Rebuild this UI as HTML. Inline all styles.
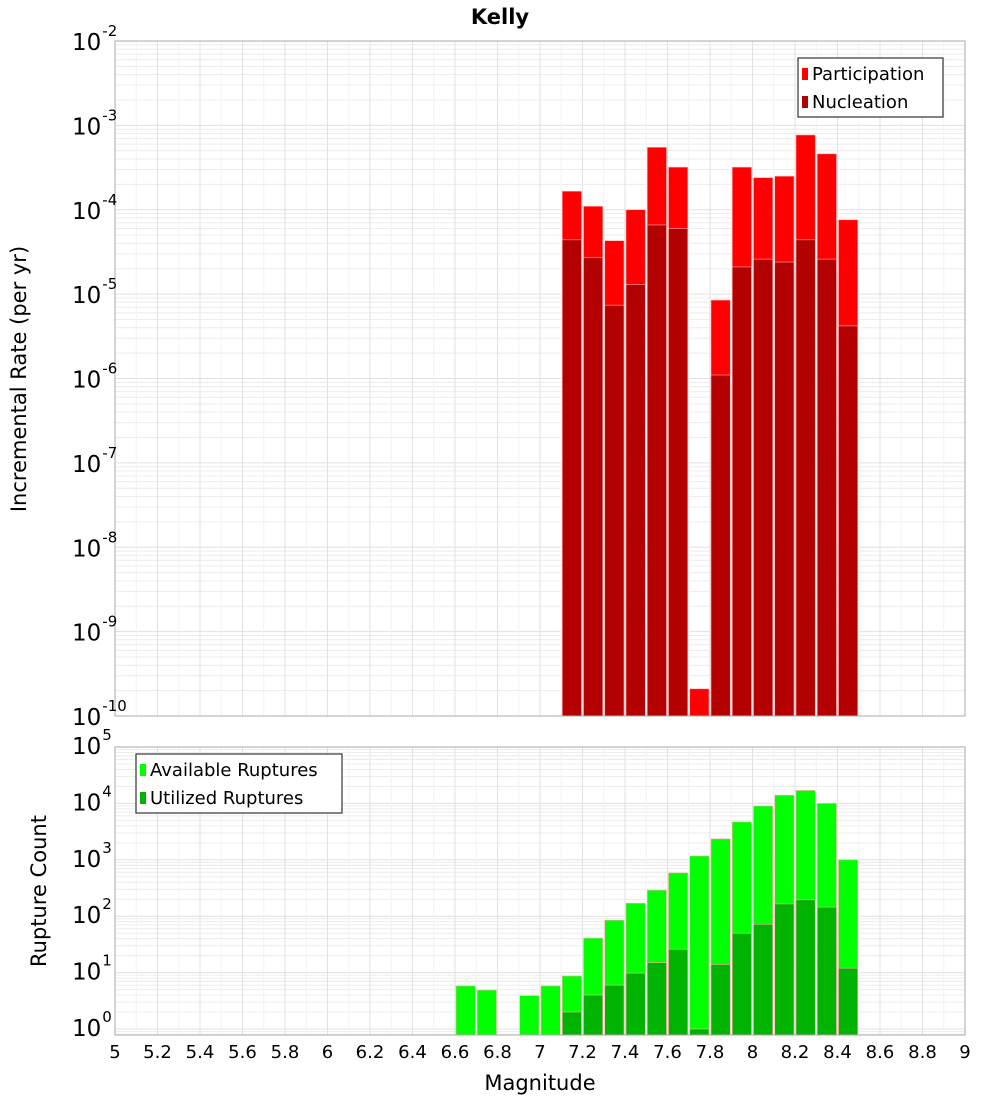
<!DOCTYPE html>
<html><head><meta charset="utf-8"><style>
body{margin:0;background:#fff;}
svg{display:block;font-family:"DejaVu Sans","Liberation Sans",sans-serif;}
</style></head><body>
<svg id="chart" width="1000" height="1100" xmlns="http://www.w3.org/2000/svg"></svg>
<script>
const mags=[7.1,7.2,7.3,7.4,7.5,7.6,7.7,7.8,7.9,8.0,8.1,8.2,8.3,8.4];
const participation=[1.66e-4,1.1e-4,4.3e-5,1e-4,5.5e-4,3.2e-4,2.1e-10,8.5e-6,3.2e-4,2.4e-4,2.5e-4,7.7e-4,4.6e-4,7.6e-5];
const nucleation=[4.4e-5,2.7e-5,7.4e-6,1.3e-5,6.6e-5,6.0e-5,0,1.1e-6,2.1e-5,2.6e-5,2.4e-5,4.4e-5,2.6e-5,4.2e-6];
const countMags=[6.6,6.7,6.9,7.0,7.1,7.2,7.3,7.4,7.5,7.6,7.7,7.8,7.9,8.0,8.1,8.2,8.3,8.4];
const available=[5.8,4.9,3.9,5.8,8.7,41,85,170,290,585,1170,2350,4700,9000,14000,17000,10000,1000];
const utilized=[0,0,0,0,2.0,4,6,9.8,15,26,1.0,14,50,72,165,195,145,12];
const xTicks=["5","5.2","5.4","5.6","5.8","6","6.2","6.4","6.6","6.8","7","7.2","7.4","7.6","7.8","8","8.2","8.4","8.6","8.8","9"];

const NS="http://www.w3.org/2000/svg";
const svg=document.getElementById('chart');
function mk(tag,attrs,parent){const e=document.createElementNS(NS,tag);for(const k in attrs)e.setAttribute(k,attrs[k]);(parent||svg).appendChild(e);return e;}
const X0=115,X1=965;
const xs=m=>X0+(m-5)/4*(X1-X0);
const topP={y0:41,y1:716,lmax:-2,lmin:-10};
const botP={y0:747,y1:1035,lmax:5,lmin:0,pxd:56.4};
const yTop=v=>topP.y0+(topP.lmax-Math.log10(v))*(topP.y1-topP.y0)/(topP.lmax-topP.lmin);
const yBot=v=>Math.min(botP.y1,botP.y0+(botP.lmax-Math.log10(v))*botP.pxd);

function panel(p,yf,lmin,lmax,name){
  const g=mk('g',{});
  
  
  for(let d=lmin;d<=lmax;d++){for(let k=1;k<10;k++){const y=yf(k*Math.pow(10,d));if(y<p.y0-0.5||y>p.y1+0.5)continue;
    mk('line',{x1:X0,x2:X1,y1:y,y2:y,stroke:k==1?'#e0e0e0':'#ececec','stroke-width':1},g);}}
  for(let i=1;i<40;i++){const x=xs(5+i*0.1);mk('line',{x1:x,x2:x,y1:p.y0,y2:p.y1,stroke:i%2==0?'#e2e2e2':'#f2f2f2','stroke-width':1},g);}
}
panel(topP,yTop,-10,-2,'top');
panel(botP,yBot,-1,5,'bottom');

const bw=(X1-X0)/40;
function bar(m,v,yf,base,color,name){if(!(v>0))return;const y=yf(v);
  const r=mk('rect',{x:xs(m)+1,y:y,width:bw-2,height:Math.max(0,base-y),fill:color,stroke:'#ffb0b0','stroke-width':0.6});
  
  }
mags.forEach((m,i)=>bar(m,participation[i],yTop,topP.y1,'#ff0000','participation-bar'));
mags.forEach((m,i)=>bar(m,nucleation[i],yTop,topP.y1,'#b30000','nucleation-bar'));
countMags.forEach((m,i)=>bar(m,available[i],yBot,botP.y1,'#00ff00','available-bar'));
countMags.forEach((m,i)=>bar(m,utilized[i],yBot,botP.y1,'#00b300','utilized-bar'));

mk('rect',{x:X0,y:topP.y0,width:X1-X0,height:topP.y1-topP.y0,fill:'none',stroke:'#aaa'});
mk('rect',{x:X0,y:botP.y0,width:X1-X0,height:botP.y1-botP.y0,fill:'none',stroke:'#aaa'});

function ylabel(y,exp,name){const t=mk('text',{x:72,y:y+9,'font-size':23,fill:'#000'});t.textContent='10';
  const s=mk('tspan',{dx:1,dy:-14,'font-size':15},t);s.textContent=exp;
  
  }
for(let d=-2;d>=-10;d--)ylabel(yTop(Math.pow(10,d)),String(d),'top-y-tick');
for(let d=5;d>=0;d--)ylabel(botP.y0+(5-d)*botP.pxd-2,String(d),'bottom-y-tick');

xTicks.forEach(s=>{const t=mk('text',{x:xs(parseFloat(s)),y:1058,'font-size':18,'text-anchor':'middle'});t.textContent=s;
  
  });

let t=mk('text',{x:540,y:1090,'font-size':21,'text-anchor':'middle'});t.textContent='Magnitude';


t=mk('text',{x:500,y:24,'font-size':21,'font-weight':'bold','text-anchor':'middle'});t.textContent='Kelly';


t=mk('text',{x:0,y:0,'font-size':21,'text-anchor':'middle',transform:'translate(26,379) rotate(-90)'});t.textContent='Incremental Rate (per yr)';


t=mk('text',{x:0,y:0,'font-size':21,'text-anchor':'middle',transform:'translate(46,891) rotate(-90)'});t.textContent='Rupture Count';



function legend(x,y,w,items,name){const g=mk('g',{});
  
  
  mk('rect',{x:x,y:y,width:w,height:59,fill:'#fff',stroke:'#333','stroke-width':1.2},g);
  items.forEach((it,i)=>{mk('rect',{x:x+4,y:y+10+i*28,width:6,height:12,fill:it[1]},g);
    const tt=mk('text',{x:x+14,y:y+22+i*28,'font-size':18},g);tt.textContent=it[0];});}
legend(798,58,145,[['Participation','#ff0000'],['Nucleation','#b30000']],'top-legend');
legend(136,754,206,[['Available Ruptures','#00ff00'],['Utilized Ruptures','#00b300']],'bottom-legend');
</script>
</body></html>
